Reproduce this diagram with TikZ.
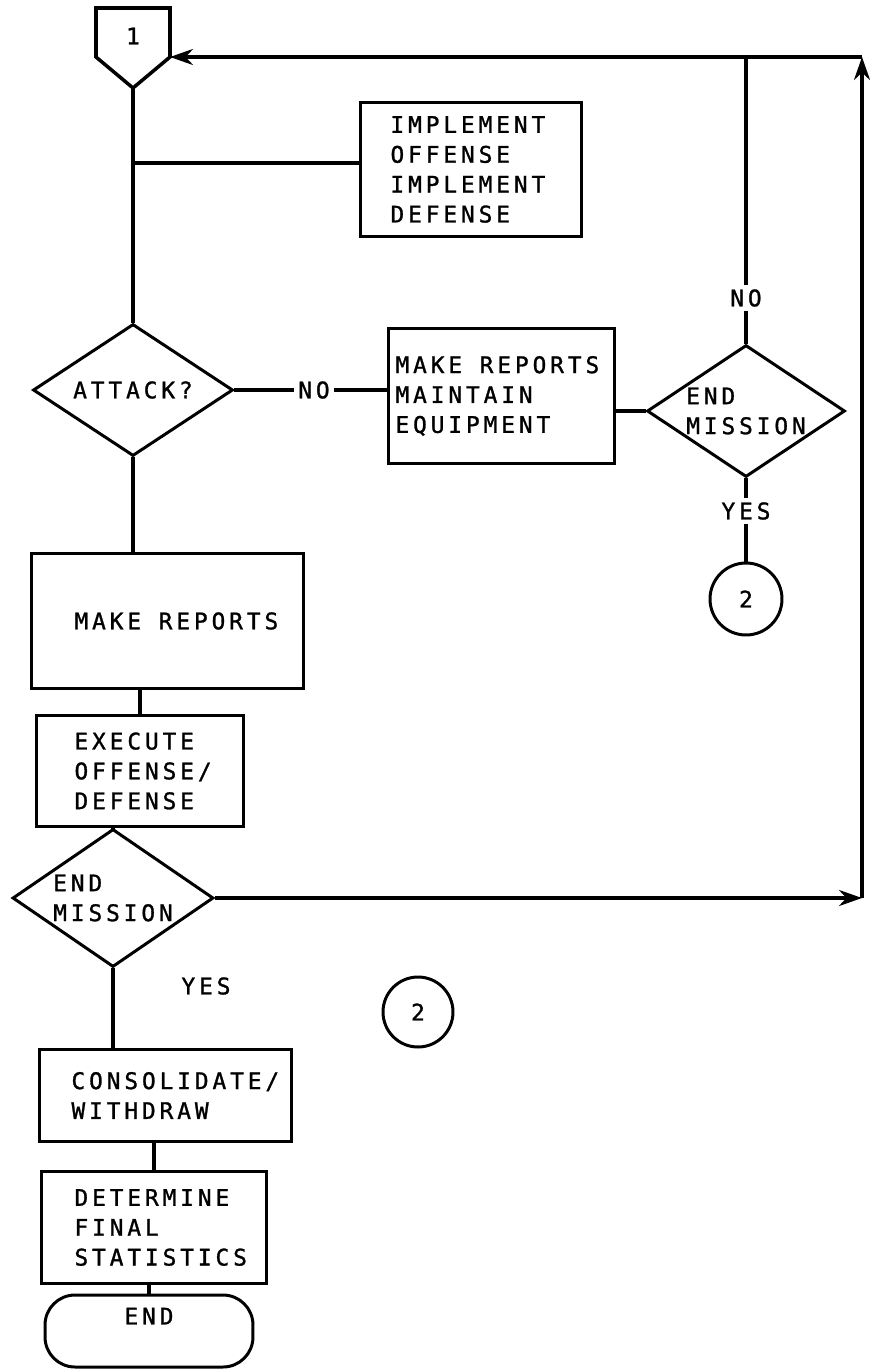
\documentclass[tikz,border=0pt]{standalone}
\usepackage{fontspec}
\usetikzlibrary{shapes.geometric,arrows.meta}
\newfontfamily\ocr[LetterSpace=17, FakeBold=1.2]{DejaVu Sans Mono}
\newcommand{\ocrfont}{\ocr\fontsize{13pt}{17pt}\selectfont}
\newcommand{\wsp}{\hspace*{10pt}}
\uchyph=0
\tikzset{
    proc/.style={draw, line width=1.7pt, font=\ocrfont, align=left, anchor=north west, inner ysep=0pt},
    decide/.style={draw, diamond, line width=1.7pt, font=\ocrfont, align=left, inner sep=0pt, aspect=1.5},
    conn/.style={draw, circle, line width=1.7pt, font=\ocrfont, minimum size=1.44cm, inner sep=0pt},
    lbl/.style={font=\ocrfont, inner sep=1.5pt},
    wire/.style={line width=2pt},
}
\begin{document}
\begin{tikzpicture}[x=0.02cm, y=-0.02cm, line width=1.7pt, >={Stealth[length=4.6mm, width=3.2mm]}]
    \useasboundingbox (0,0) rectangle (869,1369);

    % page connector 1
    \draw[wire] (96,8) -- (170,8) -- (170,57) -- (133,88) -- (96,57) -- cycle;
    \node[lbl] (p1) at (133,36) {1};
    \coordinate (ptip) at (133,88);
    \coordinate (pin) at (170,57);

    % upper part
    \node[proc, text width=3.22cm, inner xsep=0.6cm, minimum height=2.68cm] (impl) at (359,101)
        {IMPLEMENT\\OFFENSE\\IMPLEMENT\\DEFENSE};
    \node[decide, minimum width=4cm, minimum height=2.64cm] (attack) at (133,390) {ATTACK?};
    \node[lbl] (no1) at (314,390) {NO};
    \node[proc, text width=4.24cm, inner xsep=0.14cm, minimum height=2.7cm] (mkmaint) at (387,327)
        {MAKE\wsp REPORTS\\MAINTAIN\\EQUIPMENT};
    \node[decide, minimum width=3.96cm, minimum height=2.64cm] (endm1) at (746,411) {END\\MISSION};
    \node[lbl] (no2) at (746,298) {NO};
    \node[lbl] (yes1) at (746,511) {YES};
    \node[conn] (c2a) at (746,599) {2};

    % lower part
    \node[proc, text width=3.72cm, inner xsep=0.86cm, minimum height=2.7cm] (mkrep) at (30,552)
        {MAKE\wsp REPORTS};
    \node[proc, text width=2.62cm, inner xsep=0.76cm, minimum height=2.22cm] (exec) at (35,714)
        {EXECUTE\\OFFENSE/\\DEFENSE};
    \node[decide, minimum width=4.02cm, minimum height=2.76cm] (endm2) at (113,898) {END\\MISSION};
    \node[lbl] (yes2) at (206,986) {YES};
    \node[conn, minimum size=1.4cm] (c2b) at (418,1012) {2};
    \node[proc, text width=3.76cm, inner xsep=0.64cm, minimum height=1.84cm] (cons) at (38,1048)
        {CONSOLIDATE/\\WITHDRAW};
    \node[proc, text width=3.18cm, inner xsep=0.66cm, minimum height=2.24cm] (det) at (40,1170)
        {DETERMINE\\FINAL\\STATISTICS};
    \node[draw, line width=1.7pt, rounded corners=0.6cm, font=\ocrfont, align=center, minimum width=4.16cm, minimum height=1.44cm] (fin) at (149,1331)
        {END\\\mbox{}};

    % connectors
    \coordinate (jn) at (133,163);
    \coordinate (tr) at (862,57);
    \coordinate (br) at (endm2.east -| tr);
    \draw[wire] (ptip) -- (attack.north);
    \draw[wire] (jn) -- (jn -| impl.west);
    \draw[wire] (attack.east) -- (no1.west);
    \draw[wire] (no1.east) -- (mkmaint.west |- no1.east);
    \draw[wire] (endm1.west -| mkmaint.east) -- (endm1.west);
    \draw[wire] (endm1.north) -- (no2.south);
    \draw[wire] (no2.north) -- (no2.north |- tr);
    \draw[wire] (endm1.south) -- (yes1.north);
    \draw[wire] (yes1.south) -- (c2a.north);
    \draw[wire] (attack.south) -- (attack.south |- mkrep.north);
    \draw[wire] (exec.north |- mkrep.south) -- (exec.north);
    \draw[wire] (endm2.north |- exec.south) -- (endm2.north);
    \draw[wire] (endm2.south) -- (endm2.south |- cons.north);
    \draw[wire] (det.north |- cons.south) -- (det.north);
    \draw[wire] (fin.north |- det.south) -- (fin.north);
    \draw[wire, ->] (endm2.east) -- (br);
    \draw[wire, ->] (br) -- (tr);
    \draw[wire, ->] (tr) -- (pin);
\end{tikzpicture}
\end{document}
